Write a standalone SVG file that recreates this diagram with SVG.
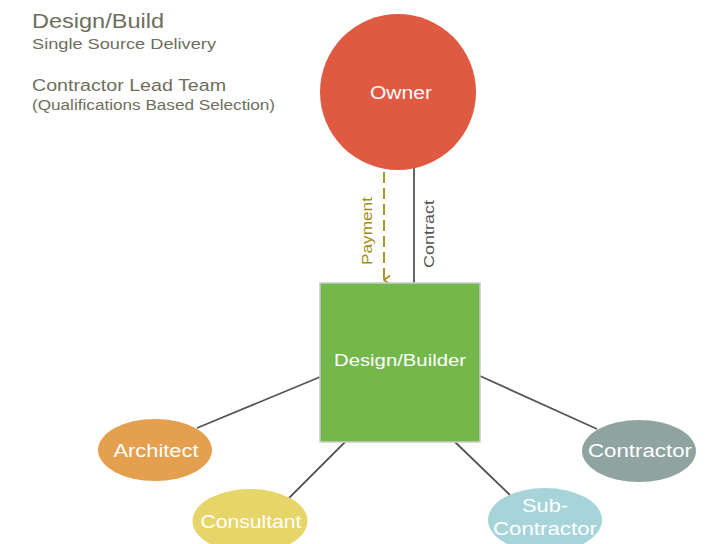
<svg xmlns="http://www.w3.org/2000/svg" width="709" height="544" viewBox="0 0 709 544">
  <style>
    text { font-family: "Liberation Sans", "DejaVu Sans", sans-serif; }
    .title { fill: #6e6e5e; }
    .lbl { fill: #ffffff; text-anchor: middle; }
    .link { stroke: #555555; stroke-width: 1.8; fill: none; }
  </style>
  <defs>
    <marker id="openArrow" viewBox="0 0 12 12" refX="6" refY="11" markerWidth="12" markerHeight="12" markerUnits="userSpaceOnUse" orient="auto">
      <path d="M1.5,5 L6,11 L10.5,5" fill="none" stroke="#a08c14" stroke-width="1.6"/>
    </marker>
  </defs>

  <rect width="709" height="544" fill="#ffffff"/>

  <g id="heading">
    <text class="title" x="32" y="28" font-size="20" textLength="132" lengthAdjust="spacingAndGlyphs">Design/Build</text>
    <text class="title" x="32" y="49" font-size="15" textLength="184" lengthAdjust="spacingAndGlyphs">Single Source Delivery</text>
    <text class="title" x="32" y="91" font-size="16" textLength="194" lengthAdjust="spacingAndGlyphs">Contractor Lead Team</text>
    <text class="title" x="32" y="110" font-size="14" textLength="243" lengthAdjust="spacingAndGlyphs">(Qualifications Based Selection)</text>
  </g>

  <g id="connectors">
    <line class="link" x1="414" y1="168" x2="414" y2="283"/>
    <line x1="384" y1="172" x2="384" y2="280" stroke="#a08c14" stroke-width="1.8" stroke-dasharray="11,5" marker-end="url(#openArrow)"/>
    <text x="0" y="0" font-size="15" fill="#a08c14" text-anchor="middle" transform="translate(372,231) rotate(-90)" textLength="68" lengthAdjust="spacingAndGlyphs">Payment</text>
    <text x="0" y="0" font-size="15" fill="#555555" text-anchor="middle" transform="translate(434,234) rotate(-90)" textLength="68" lengthAdjust="spacingAndGlyphs">Contract</text>
    <line class="link" x1="320" y1="377" x2="197" y2="428"/>
    <line class="link" x1="345" y1="442" x2="289" y2="498"/>
    <line class="link" x1="480" y1="376" x2="597" y2="429"/>
    <line class="link" x1="455" y1="442" x2="510" y2="495"/>
  </g>

  <g id="owner">
    <circle cx="398" cy="92" r="78" fill="#e05a41"/>
    <text class="lbl" x="401" y="99" font-size="18" textLength="62" lengthAdjust="spacingAndGlyphs">Owner</text>
  </g>

  <g id="design-builder">
    <rect x="320" y="283" width="160" height="159" fill="#74b84c" stroke="#c8ccc8" stroke-width="1.5"/>
    <text class="lbl" x="400" y="366" font-size="17" textLength="132" lengthAdjust="spacingAndGlyphs">Design/Builder</text>
  </g>

  <g id="architect">
    <ellipse cx="155" cy="450" rx="57" ry="31" fill="#e4a04e"/>
    <text class="lbl" x="156" y="457" font-size="18" textLength="85" lengthAdjust="spacingAndGlyphs">Architect</text>
  </g>

  <g id="consultant">
    <ellipse cx="250" cy="521" rx="57.5" ry="32" fill="#e6d569"/>
    <text class="lbl" x="251" y="528" font-size="18" textLength="101" lengthAdjust="spacingAndGlyphs">Consultant</text>
  </g>

  <g id="contractor">
    <ellipse cx="639" cy="451" rx="57" ry="31" fill="#8fa4a0"/>
    <text class="lbl" x="640" y="457" font-size="18" textLength="104" lengthAdjust="spacingAndGlyphs">Contractor</text>
  </g>

  <g id="sub-contractor">
    <ellipse cx="545" cy="520" rx="57" ry="32" fill="#a7d4d9"/>
    <text class="lbl" x="545" y="512" font-size="18" textLength="46" lengthAdjust="spacingAndGlyphs">Sub-</text>
    <text class="lbl" x="545" y="535" font-size="18" textLength="104" lengthAdjust="spacingAndGlyphs">Contractor</text>
  </g>
</svg>
